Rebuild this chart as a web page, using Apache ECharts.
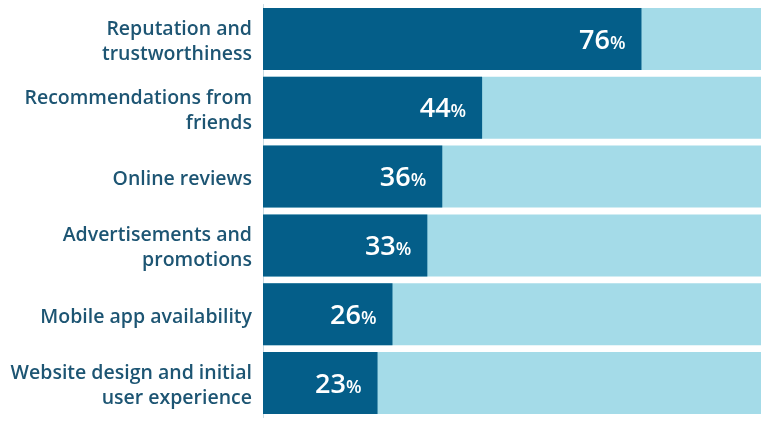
<!DOCTYPE html>
<html><head><meta charset="utf-8">
<script src="https://cdn.jsdelivr.net/npm/echarts@6/dist/echarts.min.js"></script>
<style>html,body{margin:0;padding:0;background:#fff}#c{width:769px;height:424px}</style>
</head><body><div id="c"></div>
<script>
const categories = ["Reputation and\ntrustworthiness","Recommendations from\nfriends","Online reviews","Advertisements and\npromotions","Mobile app availability","Website design and initial\nuser experience"];
const values = [76, 44, 36, 33, 26, 23];
const totals = [100, 100, 100, 100, 100, 100];

const chart = echarts.init(document.getElementById('c'));
chart.setOption({
  animation: false,
  grid: {left: 263, right: 8, top: 4.5, bottom: 6.5},
  xAxis: {type: 'value', min: 0, max: 100, show: false},
  yAxis: {
    type: 'category', data: categories, inverse: true,
    axisLine: {show: true, lineStyle: {color: '#c9dbe3', width: 1}},
    axisTick: {show: false},
    axisLabel: {margin: 11, align: 'right',
      formatter: v => '{s| }\n' + v.split('\n').map(l => '{a|' + l + '}').join('\n'),
      rich: {
        s: {fontSize: 4, lineHeight: 6, height: 6},
        a: {color: '#1d5573', fontFamily: 'Open Sans', fontWeight: 600, fontSize: 19.5, lineHeight: 25, align: 'right'}
      }}
  },
  series: [
    {type: 'bar', data: totals, barCategoryGap: '10%', barGap: '-100%', itemStyle: {color: '#a4dbe8'}, silent: true, z: 1},
    {type: 'bar', data: values, barCategoryGap: '10%', itemStyle: {color: '#045e89'}, z: 2,
     label: {show: true, position: 'insideRight', distance: 16, offset: [0, 2],
       formatter: p => '{n|' + p.value + '}{p|%}',
       rich: {n: {color: '#fff', fontFamily: 'Open Sans', fontWeight: 600, fontSize: 27}, p: {color: '#fff', fontFamily: 'Open Sans', fontWeight: 600, fontSize: 18, padding: [5,0,0,0]}}}}
  ]
});
</script></body></html>
